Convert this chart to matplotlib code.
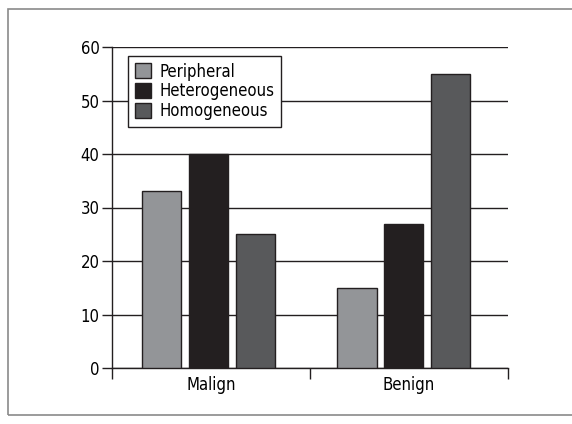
import matplotlib
matplotlib.use("Agg")
import matplotlib.pyplot as plt
from matplotlib import font_manager
import numpy as np

names = {f.name for f in font_manager.fontManager.ttflist}
if 'Liberation Sans Narrow' in names:
    plt.rcParams['font.family'] = ['Liberation Sans Narrow', 'DejaVu Sans']
else:
    plt.rcParams['font.family'] = ['DejaVu Sans']
    plt.rcParams['font.stretch'] = 'condensed'

categories = ['Malign', 'Benign']
series = ['Peripheral', 'Heterogeneous', 'Homogeneous']
values = {
    'Peripheral': [33, 15],
    'Heterogeneous': [40, 27],
    'Homogeneous': [25, 55],
}
colors = ['#939598', '#231f20', '#58595b']

fig = plt.figure(figsize=(5.72, 4.24), dpi=100)
# outer frame
fig.patches.append(plt.Rectangle((8 / 572, 9 / 424), 1.2, 406 / 424, transform=fig.transFigure,
                                 fill=False, edgecolor='#8a8a8a', linewidth=1.2))
ax = fig.add_axes([112 / 572, 56 / 424, 396 / 572, 321 / 424])

x = np.arange(len(categories))
w = 0.2
step = 0.237
for i, (s, c) in enumerate(zip(series, colors)):
    ax.bar(x + (i - 1) * step - 0.012 - 0.015 * x, values[s], width=w, color=c,
           edgecolor='#231f20', linewidth=1, label=s, zorder=3)

ax.set_xlim(-0.5, 1.5)
ax.set_ylim(0, 60)
ax.set_yticks(range(0, 61, 10))
ax.yaxis.grid(True, color='#231f20', linewidth=1, zorder=0)
ax.set_axisbelow(True)

ax.set_xticks([-0.5, 0.5, 1.5])
ax.set_xticklabels([])
ax.set_xticks(x, minor=True)
ax.set_xticklabels(categories, minor=True)
ax.tick_params(axis='x', which='major', direction='out', length=8, width=1, color='#231f20')
ax.tick_params(axis='x', which='minor', length=0, pad=6, labelsize=12)
ax.tick_params(axis='y', direction='out', length=7, width=1, color='#231f20', labelsize=12, pad=2)

for sp in ['top', 'right']:
    ax.spines[sp].set_visible(False)
for sp in ['left', 'bottom']:
    ax.spines[sp].set_color('#231f20')
    ax.spines[sp].set_linewidth(1)

leg = ax.legend(loc='upper left', bbox_to_anchor=(0.04, 0.972), borderaxespad=0, fontsize=12,
                frameon=True, fancybox=False, edgecolor='#231f20', framealpha=1, borderpad=0.4,
                handlelength=1.0, handleheight=1.0, handletextpad=0.5, labelspacing=0.1)
leg.get_frame().set_linewidth(1)

fig.savefig('out.png', dpi=100)
